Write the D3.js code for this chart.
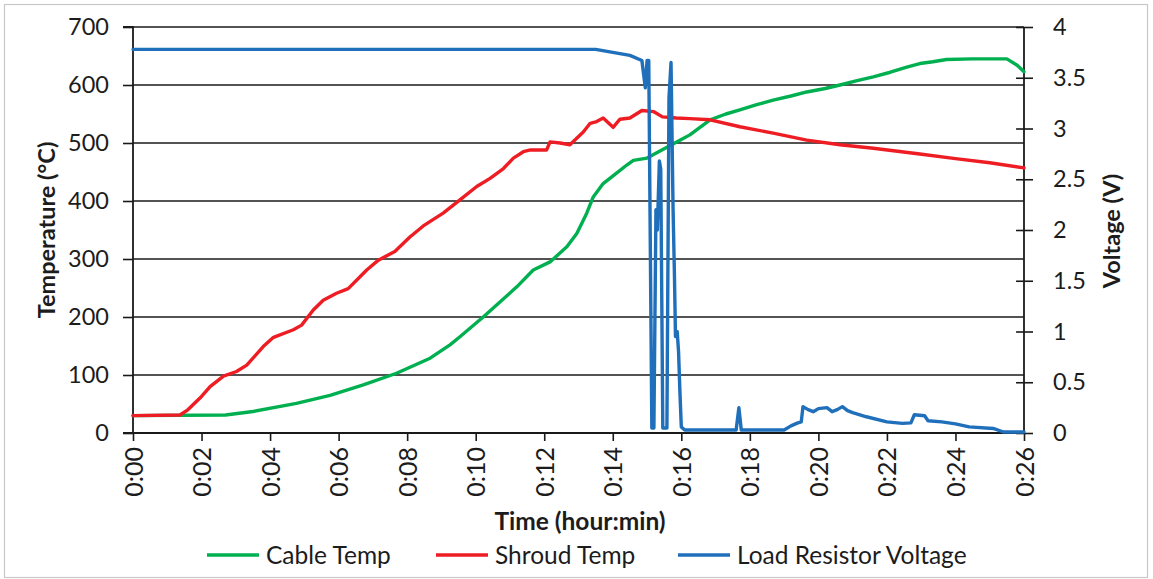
<!DOCTYPE html>
<html>
<head>
<meta charset="utf-8">
<script src="https://cdn.jsdelivr.net/npm/d3@7"></script>
<style>
  html, body { margin: 0; padding: 0; background: #fff; }
  svg { display: block; font-family: Lato, "Open Sans", sans-serif; }
</style>
</head>
<body>
<svg id="chart" width="1153" height="579"></svg>
<script>
// ---- data (time in minutes) ----
const xTickMinutes = [0, 2, 4, 6, 8, 10, 12, 14, 16, 18, 20, 22, 24, 26];
const tempTicks = [0, 100, 200, 300, 400, 500, 600, 700];
const voltTicks = [0, 0.5, 1, 1.5, 2, 2.5, 3, 3.5, 4];

const cableTime = [0, 2.7, 3.5, 4.77, 5.75, 6.72, 7.69, 8.67, 9.25, 9.54, 10.22, 11.2, 11.68, 12.17, 12.66, 12.95, 13.24, 13.43, 13.72, 14.11, 14.41, 14.6, 15.0, 15.5, 16.0, 16.25, 16.84, 17.3, 17.71, 18.2, 18.68, 19.2, 19.66, 20.2, 20.63, 21.1, 21.6, 22.1, 22.58, 22.96, 23.34, 23.74, 24.5, 25.5, 25.8, 26.0];
const cableTemp = [30, 31, 37, 51, 65, 83, 103, 129, 152, 166, 200, 252, 281, 295, 321, 344, 379, 407, 430, 448, 462, 470, 474, 490, 506, 514, 540, 550, 557, 566, 574, 581, 588, 594, 600, 607, 614, 622, 631, 637, 640, 644, 645, 645, 634, 623];

const shroudTime = [0, 1.37, 1.6, 2.0, 2.25, 2.64, 3.02, 3.32, 3.8, 4.1, 4.68, 4.92, 5.26, 5.55, 5.94, 6.28, 6.82, 7.16, 7.64, 8.08, 8.47, 9.05, 9.54, 10.03, 10.42, 10.81, 11.1, 11.39, 11.6, 12.07, 12.17, 12.46, 12.75, 13.14, 13.34, 13.53, 13.72, 14.01, 14.21, 14.5, 14.85, 15.2, 15.45, 15.85, 16.25, 16.84, 17.71, 18.68, 19.66, 20.63, 21.6, 22.96, 24.0, 25.0, 26.0];
const shroudTemp = [30, 31, 40, 63, 80, 98, 106, 117, 149, 165, 178, 186, 212, 229, 241, 249, 281, 298, 313, 338, 357, 379, 402, 425, 439, 456, 474, 485, 488, 488, 502, 500, 497, 519, 534, 537, 543, 527, 541, 543, 556, 554, 545, 543, 542, 540, 528, 517, 505, 497, 491, 481, 473, 466, 457];

const voltTime = [0, 13.5, 14.0, 14.5, 14.85, 14.95, 15.0, 15.05, 15.14, 15.2, 15.26, 15.3, 15.36, 15.4, 15.46, 15.58, 15.64, 15.7, 15.76, 15.8, 15.83, 15.88, 15.92, 15.96, 16.0, 16.1, 17.6, 17.68, 17.75, 19.0, 19.2, 19.4, 19.5, 19.55, 19.7, 19.85, 20.0, 20.25, 20.4, 20.55, 20.7, 20.85, 21.0, 21.4, 22.0, 22.45, 22.7, 22.8, 23.1, 23.2, 23.6, 24.0, 24.4, 25.1, 25.4, 26.0];
const voltValue = [3.78, 3.78, 3.75, 3.72, 3.67, 3.4, 3.67, 3.67, 0.05, 0.05, 2.2, 2.0, 2.68, 2.6, 0.05, 0.05, 3.3, 3.65, 2.2, 1.55, 0.95, 1.0, 0.8, 0.4, 0.06, 0.03, 0.03, 0.25, 0.03, 0.03, 0.07, 0.1, 0.11, 0.26, 0.23, 0.21, 0.24, 0.25, 0.21, 0.23, 0.26, 0.22, 0.2, 0.16, 0.11, 0.095, 0.1, 0.18, 0.17, 0.12, 0.11, 0.09, 0.06, 0.045, 0.01, 0.01];

const seriesNames = ["Cable Temp", "Shroud Temp", "Load Resistor Voltage"];
const seriesColors = ["#00b050", "#ee1d24", "#1f6fbb"];

// ---- layout ----
const svg = d3.select("#chart");
const mLeft = 133, mRight = 1024, mTop = 27, mBottom = 433;

svg.append("rect").attr("x", 4.5).attr("y", 4.5).attr("width", 1143).attr("height", 573)
  .attr("fill", "#fff").attr("stroke", "#c8c8c8").attr("stroke-width", 1.2);

const x = d3.scaleLinear().domain([0, 26]).range([mLeft, mRight]);
const yT = d3.scaleLinear().domain([0, 700]).range([mBottom, mTop]);
const yV = d3.scaleLinear().domain([0, 4]).range([mBottom, mTop]);

const axisColor = "#1a1a1a";
const textColor = "#1c1c1c";

// gridlines
svg.append("g").selectAll("line").data(tempTicks.filter(d => d > 0)).join("line")
  .attr("x1", mLeft).attr("x2", mRight)
  .attr("y1", d => yT(d)).attr("y2", d => yT(d))
  .attr("stroke", axisColor).attr("stroke-width", 1.6);

// left axis
const gL = svg.append("g").attr("transform", `translate(${mLeft},0)`)
  .call(d3.axisLeft(yT).tickValues(tempTicks).tickSize(10).tickPadding(14));
// right axis
const gR = svg.append("g").attr("transform", `translate(${mRight},0)`)
  .call(d3.axisRight(yV).tickValues(voltTicks).tickSize(9).tickPadding(20)
    .tickFormat(d => d3.format("~g")(d)));
gR.selectAll(".tick line").attr("x1", -8);
// bottom axis
const gB = svg.append("g").attr("transform", `translate(0,${mBottom})`)
  .call(d3.axisBottom(x).tickValues(xTickMinutes).tickSize(8)
    .tickFormat(d => "0:" + String(d).padStart(2, "0")));
gB.selectAll(".tick text")
  .attr("transform", "rotate(-90)")
  .attr("text-anchor", "end")
  .attr("x", -14).attr("y", 0).attr("dy", "0.36em");

[gL, gR, gB].forEach(g => {
  g.select(".domain").attr("stroke", axisColor).attr("stroke-width", 1.8);
  g.selectAll(".tick line").attr("stroke", axisColor).attr("stroke-width", 1.6);
  g.selectAll(".tick text").attr("fill", textColor)
    .style("font-family", "Lato, sans-serif");
});
gL.selectAll(".tick text").style("font-size", "23.5px");
gR.selectAll(".tick text").style("font-size", "23.5px");
gB.selectAll(".tick text").style("font-size", "25px");
gL.select(".domain").attr("d", `M-10,${mBottom}H0V${mTop}H-10`);
gR.select(".domain").attr("d", `M0,${mBottom}V${mTop}`);
gB.select(".domain").attr("d", `M${mLeft - 10},0H${mRight}`);

// lines
const lineT = d3.line().x(d => x(d[0])).y(d => yT(d[1]));
const lineV = d3.line().x(d => x(d[0])).y(d => yV(d[1]));
const plot = svg.append("g").attr("fill", "none").attr("stroke-width", 3.4)
  .attr("stroke-linejoin", "round").attr("stroke-linecap", "round");
plot.append("path").attr("d", lineT(d3.zip(cableTime, cableTemp))).attr("stroke", seriesColors[0]);
plot.append("path").attr("d", lineT(d3.zip(shroudTime, shroudTemp))).attr("stroke", seriesColors[1]);
plot.append("path").attr("d", lineV(d3.zip(voltTime, voltValue))).attr("stroke", seriesColors[2]);

// titles
svg.append("text").attr("transform", `translate(55,230) rotate(-90)`)
  .attr("text-anchor", "middle").attr("font-weight", "bold").attr("font-size", 23.5)
  .attr("fill", textColor).text("Temperature (°C)");
svg.append("text").attr("transform", `translate(1120,231) rotate(-90)`)
  .attr("text-anchor", "middle").attr("font-weight", "bold").attr("font-size", 23.5)
  .attr("fill", textColor).text("Voltage (V)");
svg.append("text").attr("x", 580).attr("y", 530)
  .attr("text-anchor", "middle").attr("font-weight", "bold").attr("font-size", 24.5)
  .attr("fill", textColor).text("Time (hour:min)");

// legend
const legendX = [207, 436, 678];
const leg = svg.append("g");
seriesNames.forEach((name, i) => {
  leg.append("line").attr("x1", legendX[i]).attr("x2", legendX[i] + 52)
    .attr("y1", 555).attr("y2", 555).attr("stroke", seriesColors[i]).attr("stroke-width", 3.4);
  leg.append("text").attr("x", legendX[i] + 59).attr("y", 564)
    .attr("font-size", 24.5).attr("fill", textColor).text(name);
});
</script>
</body>
</html>
